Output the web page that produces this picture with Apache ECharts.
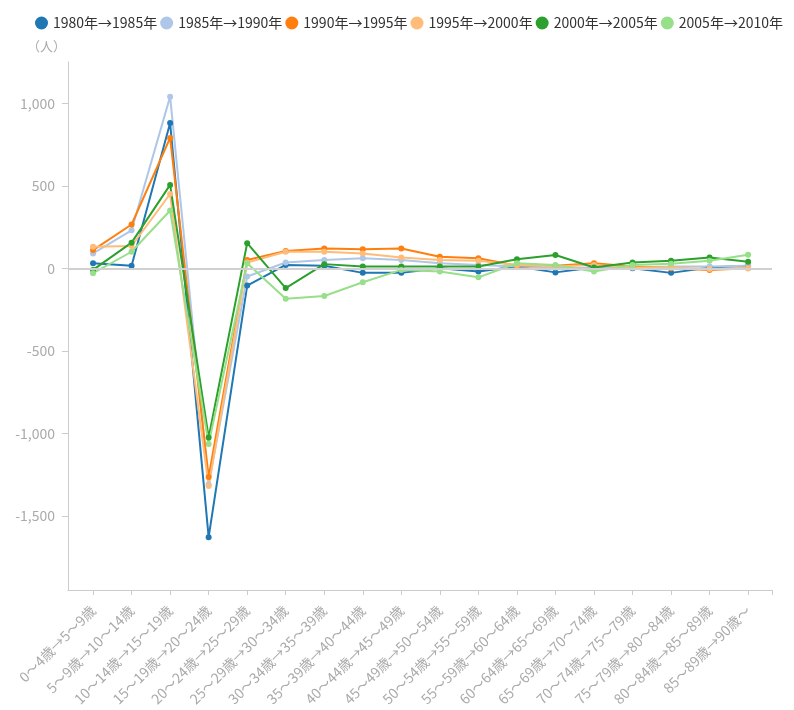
<!DOCTYPE html>
<html>
<head>
<meta charset="utf-8">
<script src="https://cdn.jsdelivr.net/npm/echarts@6/dist/echarts.min.js"></script>
<style>html,body{margin:0;padding:0;background:#fff;}#c{width:794px;height:710px;}</style>
</head>
<body>
<div id="c"></div>
<script>
const categories = ["0～4歳→5～9歳","5～9歳→10～14歳","10～14歳→15～19歳","15～19歳→20～24歳","20～24歳→25～29歳","25～29歳→30～34歳","30～34歳→35～39歳","35～39歳→40～44歳","40～44歳→45～49歳","45～49歳→50～54歳","50～54歳→55～59歳","55～59歳→60～64歳","60～64歳→65～69歳","65～69歳→70～74歳","70～74歳→75～79歳","75～79歳→80～84歳","80～84歳→85～89歳","85～89歳→90歳～"];
const seriesNames = ["1980年→1985年","1985年→1990年","1990年→1995年","1995年→2000年","2000年→2005年","2005年→2010年"];
const s1980 = [30, 15, 880, -1630, -105, 20, 15, -28, -28, 0, -20, 10, -25, 5, 0, -28, 5, 15];
const s1985 = [90, 230, 1040, -1310, -50, 35, 50, 60, 50, 30, 20, 10, 5, 0, 5, 10, 10, 15];
const s1990 = [110, 265, 790, -1265, 50, 105, 120, 115, 120, 70, 60, 15, 15, 30, 10, 0, -10, 0];
const s1995 = [130, 135, 450, -1320, 35, 100, 100, 90, 65, 50, 45, 20, 10, 20, 5, 5, -5, 0];
const s2000 = [-10, 155, 505, -1025, 152, -120, 25, 10, 10, 10, 10, 55, 80, 5, 35, 45, 65, 40];
const s2005 = [-30, 100, 350, -1065, 30, -185, -168, -85, -10, -20, -55, 30, 20, -20, 20, 28, 45, 82];
const colors = ['#1f77b4','#aec7e8','#ff7f0e','#ffbb78','#2ca02c','#98df8a'];
const yMin = -1950, yMax = 1250;
const xMin = -0.65, xMax = 17.62;

const allValues = [s1980, s1985, s1990, s1995, s2000, s2005];
const idx = categories.map((c, i) => i);
const FONT = '"Noto Sans CJK JP", "Noto Sans", sans-serif';

const series = allValues.map((vals, k) => ({
  name: seriesNames[k],
  type: 'line',
  data: vals.map((v, i) => [i, v]),
  symbol: 'circle',
  symbolSize: 6,
  lineStyle: { width: 2, color: colors[k] },
  itemStyle: { color: colors[k] },
  z: 3
}));
series.unshift({
  name: 'zero',
  type: 'line',
  data: [],
  z: 1,
  markLine: {
    silent: true,
    symbol: ['none', 'none'],
    label: { show: false },
    lineStyle: { color: '#d0d0d0', width: 2, type: 'solid' },
    data: [{ yAxis: 0 }]
  }
});

const chart = echarts.init(document.getElementById('c'));
chart.setOption({
  animation: false,
  color: colors,
  textStyle: { fontFamily: FONT },
  legend: {
    data: seriesNames,
    left: 30,
    top: 11,
    width: 790,
    icon: 'circle',
    itemWidth: 13,
    itemHeight: 13,
    itemGap: 3,
    textStyle: { fontSize: 14, color: '#333', fontFamily: FONT }
  },
  grid: { left: 68, right: 22, top: 62, bottom: 120, containLabel: false, outerBoundsMode: 'none' },
  xAxis: {
    type: 'value',
    min: xMin,
    max: xMax,
    axisLine: { show: true, onZero: false, lineStyle: { color: '#ccc', width: 1 } },
    axisTick: { show: true, length: 5, customValues: idx.concat([xMax]), lineStyle: { color: '#ccc' } },
    splitLine: { show: false },
    axisLabel: {
      customValues: idx,
      rotate: 45,
      margin: 18,
      fontSize: 14,
      color: '#aaa',
      fontFamily: FONT,
      formatter: v => categories[Math.round(v)] || ''
    }
  },
  yAxis: {
    type: 'value',
    min: yMin,
    max: yMax,
    name: '（人）',
    nameLocation: 'end',
    nameGap: 9,
    nameTextStyle: { color: '#aaa', fontSize: 13, align: 'right', padding: [0, 2, 0, 0], fontFamily: FONT },
    axisLine: { show: true, onZero: false, lineStyle: { color: '#ccc', width: 1 } },
    axisTick: { show: true, length: 6, lineStyle: { color: '#ccc' } },
    splitLine: { show: false },
    axisLabel: {
      showMinLabel: false,
      showMaxLabel: false,
      margin: 13,
      fontSize: 14,
      color: '#aaa',
      fontFamily: FONT,
      formatter: v => v.toLocaleString('en-US')
    }
  },
  series: series
});
</script>
</body>
</html>
